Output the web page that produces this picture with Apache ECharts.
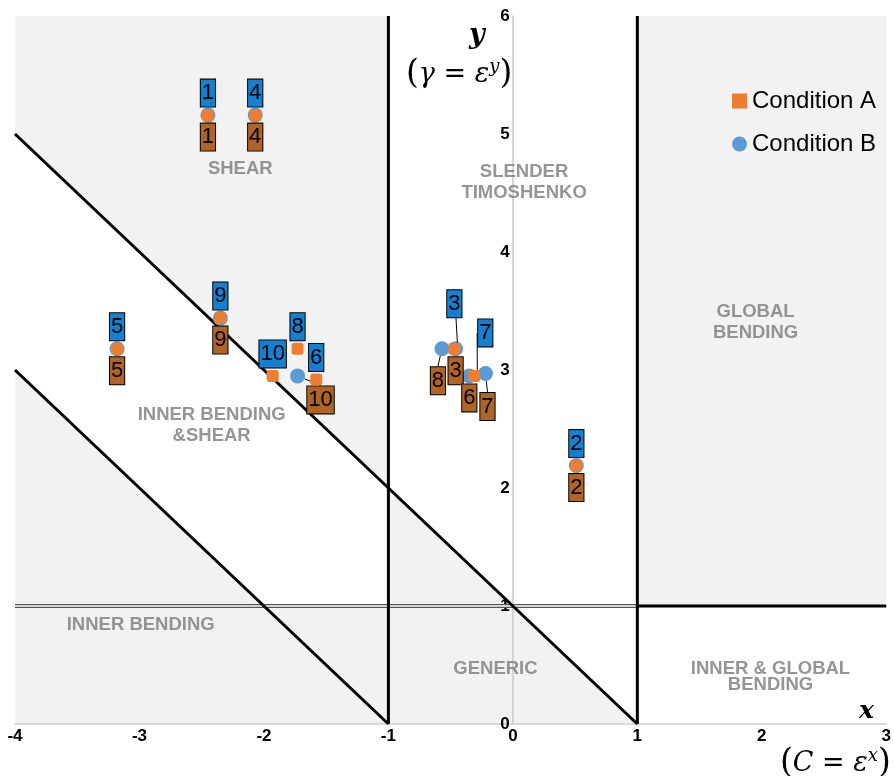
<!DOCTYPE html>
<html><head><meta charset="utf-8">
<script src="https://cdn.jsdelivr.net/npm/echarts@6/dist/echarts.min.js"></script>
<style>html,body{margin:0;padding:0;background:#fff}#c{width:894px;height:776px}</style>
</head><body><div id="c"></div>
<script>
// ---- data ----
const xTicks = [-4, -3, -2, -1, 0, 1, 2, 3];
const yTicks = [0, 1, 2, 3, 4, 5, 6];
const pointLabels = ['1','2','3','4','5','6','7','8','9','10'];
const condAx = [-2.45, 0.51, -0.47, -2.07, -3.18, -1.58, -0.31, -1.73, -2.35, -1.93];
const condAy = [5.16, 2.19, 3.18, 5.16, 3.18, 2.92, 2.95, 3.18, 3.44, 2.95];
const condBx = [-2.45, 0.51, -0.46, -2.07, -3.18, -0.35, -0.22, -0.57, -2.35, -1.73];
const condBy = [5.16, 2.19, 3.18, 5.16, 3.18, 2.95, 2.97, 3.18, 3.44, 2.95];
// region boundaries (data coordinates)
const line1 = [[-4, 5], [1, 0]];
const line2 = [[-4, 3], [-1, 0]];
const vLeft = [[-1, 0], [-1, 6]];
const vRight = [[1, 0], [1, 6]];
const hLeft = [[-4, 1], [1, 1]];
const hRight = [[1, 1], [3, 1]];
const grayRegions = [
  [[-4, 5], [-4, 6], [-1, 6], [-1, 2]],
  [[-4, 0], [-4, 3], [-2, 1], [-1, 1], [-1, 0]],
  [[-1, 0], [-1, 2], [1, 0]],
  [[1, 1], [1, 6], [3, 6], [3, 1]]
];
const regionNames = ['SHEAR', 'SLENDER\nTIMOSHENKO', 'GLOBAL\nBENDING', 'INNER BENDING\n&SHEAR', 'INNER BENDING', 'GENERIC', 'INNER & GLOBAL\nBENDING'];
const regionX = [-2.19, 0.09, 1.95, -2.42, -2.99, -0.14, 2.07];
const regionY = [4.70, 4.59, 3.40, 2.53, 0.84, 0.47, 0.40];

// ---- styles (label offsets in pixels) ----
const offA = {2: [0, -45], 6: [11, -43]};
const offB = {6: [2, 33], 7: [-4, 32], 9: [23, 24]};
const leaderA = [2, 6];
const leaderB = [6, 7, 9];
const labelFont = "'Liberation Sans Narrow','Liberation Sans',Arial,sans-serif";

function pts(xs, ys, idx) { return idx.map(i => ({value: [xs[i], ys[i]], name: pointLabels[i]})); }
const allIdx = pointLabels.map((_, i) => i);

function boxLabel(bg, offset) {
  return {show: true, position: 'inside', offset: offset, formatter: p => p.name,
    backgroundColor: bg, borderColor: '#000', borderWidth: 1, padding: [2, 1, 2, 1],
    lineHeight: 23, fontSize: 22, fontFamily: labelFont, color: '#000'};
}
function lineSeries(d, color, width, z) {
  return {type: 'line', data: d, symbol: 'none', silent: true, z: z, animation: false,
    lineStyle: {color: color, width: width}};
}

const aDirect = allIdx.filter(i => leaderA.indexOf(i) < 0);
const bDirect = allIdx.filter(i => leaderB.indexOf(i) < 0);
const itemA = {color: '#ed7d31', opacity: 1};
const itemB = {color: '#5b9bd5', opacity: 1};

const series = [
  {type: 'custom', z: 1, silent: true, animation: false,
    data: grayRegions.map((_, i) => [i, 0]),
    renderItem: (params, api) => ({type: 'polygon',
      shape: {points: grayRegions[params.dataIndex].map(p => api.coord(p))},
      style: {fill: '#f2f2f2'}})},
  lineSeries(hLeft, '#555', 4, 3),
  lineSeries(hLeft, '#fff', 1.4, 3),
  lineSeries(line1, '#000', 3, 3),
  lineSeries(line2, '#000', 3, 3),
  lineSeries(vLeft, '#000', 3, 3),
  lineSeries(vRight, '#000', 3, 3),
  lineSeries(hRight, '#000', 3, 3),
  {type: 'scatter', z: 3, silent: true, symbolSize: 0, animation: false,
    data: regionNames.map((n, i) => ({name: n, value: [regionX[i], regionY[i]],
      label: {lineHeight: i === 6 ? 16 : 21}})),
    label: {show: true, position: 'inside', formatter: p => p.name, color: '#7b7b7b',
      fontWeight: 'bold', fontSize: 18.5, fontFamily: "'Liberation Sans',Arial,sans-serif", align: 'center'}},
  {type: 'scatter', name: 'Condition B', z: 4, symbol: 'circle', symbolSize: 15, animation: false,
    itemStyle: itemB, data: pts(condBx, condBy, bDirect), label: boxLabel('#b06428', [0, 22])},
  {type: 'scatter', name: 'Condition B', z: 4, symbol: 'circle', symbolSize: 15, animation: false,
    itemStyle: itemB, data: pts(condBx, condBy, leaderB), label: boxLabel('#b06428', [0, 0]),
    labelLine: {show: true, lineStyle: {color: '#000', width: 1}},
    labelLayout: p => { const o = offB[leaderB[p.dataIndex]]; return {dx: o[0], dy: o[1]}; }},
  {type: 'scatter', name: 'Condition A', z: 5, symbol: 'roundRect', symbolSize: 12, animation: false,
    itemStyle: itemA, data: pts(condAx, condAy, aDirect), label: boxLabel('#1580d0', [0, -22])},
  {type: 'scatter', name: 'Condition A', z: 5, symbol: 'roundRect', symbolSize: 12, animation: false,
    itemStyle: itemA, data: pts(condAx, condAy, leaderA), label: boxLabel('#1580d0', [0, 0]),
    labelLine: {show: true, lineStyle: {color: '#000', width: 1}},
    labelLayout: p => { const o = offA[leaderA[p.dataIndex]]; return {dx: o[0], dy: o[1]}; }}
];

const chart = echarts.init(document.getElementById('c'), null, {renderer: 'canvas'});
const tickFont = {color: '#000', fontWeight: 'bold', fontSize: 17, fontFamily: "'Liberation Sans',Arial,sans-serif"};
const mathRich = {
  p: {fontSize: 33, fontFamily: 'DejaVu Serif'},
  i: {fontSize: 27, fontStyle: 'italic', fontFamily: 'DejaVu Serif'},
  n: {fontSize: 27, fontFamily: 'DejaVu Serif'},
  s: {fontSize: 18, fontStyle: 'italic', fontFamily: 'DejaVu Serif', verticalAlign: 'top'}
};
chart.setOption({
  animation: false,
  backgroundColor: '#fff',
  grid: {left: 15, right: 5, top: 16, bottom: 52, containLabel: false},
  xAxis: {type: 'value', min: xTicks[0], max: xTicks[xTicks.length - 1], interval: 1, z: 2,
    axisLine: {onZero: false, lineStyle: {color: '#d0d0d0', width: 1.5}},
    axisTick: {show: false}, splitLine: {show: false},
    axisLabel: Object.assign({margin: 4, formatter: v => String(v)}, tickFont)},
  yAxis: {type: 'value', min: yTicks[0], max: yTicks[yTicks.length - 1], interval: 1, z: 2,
    axisLine: {onZero: false, lineStyle: {color: '#c8c8c8', width: 1.5}},
    axisTick: {show: false}, splitLine: {show: false},
    axisLabel: Object.assign({margin: 3, formatter: v => String(v)}, tickFont)},
  legend: {orient: 'vertical', left: 732, top: 89, padding: 0, itemWidth: 15, itemHeight: 15, itemGap: 19,
    data: [{name: 'Condition A', icon: 'rect'}, {name: 'Condition B', icon: 'circle'}],
    textStyle: {fontSize: 24, color: '#000', fontFamily: "'Liberation Sans',Arial,sans-serif"}},
  graphic: [
    {type: 'text', left: 469, top: 22, z: 10,
      style: {text: 'y', font: 'italic bold 27px "DejaVu Serif"', fill: '#000'}},
    {type: 'text', left: 406, top: 58, z: 10,
      style: {text: '{p|(}{i|γ}{n| = }{i|ε}{s|y}{p|)}', fill: '#000', rich: mathRich}},
    {type: 'text', left: 859, top: 699, z: 10,
      style: {text: 'x', font: 'italic bold 25px "DejaVu Serif"', fill: '#000'}},
    {type: 'text', left: 780, top: 747, z: 10,
      style: {text: '{p|(}{i|C}{n| = }{i|ε}{s|x}{p|)}', fill: '#000', rich: mathRich}}
  ],
  series: series
});
// place the y axis on x = 0 using the x scale
const zeroPx = chart.convertToPixel({xAxisIndex: 0}, 0);
const leftPx = chart.convertToPixel({xAxisIndex: 0}, xTicks[0]);
chart.setOption({yAxis: {offset: -(zeroPx - leftPx)}});
</script></body></html>
